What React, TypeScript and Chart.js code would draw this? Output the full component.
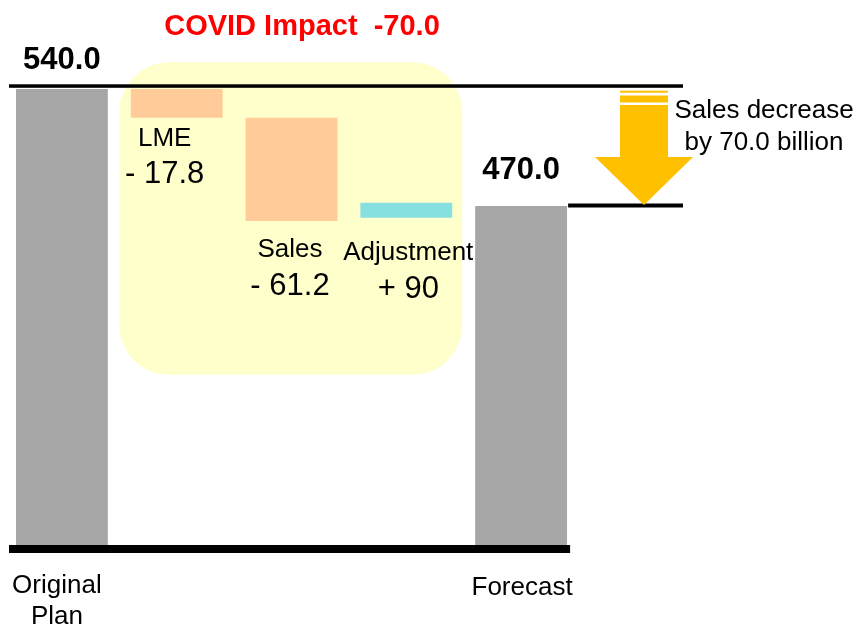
import React, { useEffect, useRef } from "react";
import { Chart, registerables } from "chart.js";

Chart.register(...registerables);

// ---- data ----
const categories = ["Original Plan", "LME", "Sales", "Adjustment", "Forecast"];
const axisLabels: string[][] = [["Original", "Plan"], [], [], [], ["Forecast"]];
const barValues: (number | [number, number])[] = [540, [522.8, 540], [461, 522.8], [463, 472], 470];
const totalLabels = ["540.0", "", "", "", "470.0"];
const changeNames = ["", "LME", "Sales", "Adjustment", ""];
const changeLabels = ["", "- 17.8", "- 61.2", "+ 90", ""];
const covidTitle = "COVID Impact  -70.0";
const arrowNote = ["Sales decrease", "by 70.0 billion"];
const planValue = 540;
const forecastValue = 470;
const yMin = 267;
const yMax = 560;
const highlightTop = 556;
const highlightBottom = 369;

// ---- styles ----
const barColors = ["#A6A6A6", "#FFCC99", "#FFCC99", "#86E0E0", "#A6A6A6"];
const FONT = '"Liberation Sans", Arial, sans-serif';
const YELLOW_BOX = "#FFFFCC";
const ARROW = "#FFC000";

const overlayPlugin = {
  id: "overlay",
  beforeDatasetsDraw(chart: any) {
    const { ctx, scales } = chart;
    const x = scales.x;
    const y = scales.y;
    const left = (x.getPixelForValue(0) + x.getPixelForValue(1)) / 2;
    const right = (x.getPixelForValue(3) + x.getPixelForValue(4)) / 2 - 1.5;
    const top = y.getPixelForValue(highlightTop);
    const bottom = y.getPixelForValue(highlightBottom);
    const r = 50;
    ctx.save();
    ctx.fillStyle = YELLOW_BOX;
    ctx.beginPath();
    ctx.moveTo(left + r, top);
    ctx.lineTo(right - r, top);
    ctx.arcTo(right, top, right, top + r, r);
    ctx.lineTo(right, bottom - r);
    ctx.arcTo(right, bottom, right - r, bottom, r);
    ctx.lineTo(left + r, bottom);
    ctx.arcTo(left, bottom, left, bottom - r, r);
    ctx.lineTo(left, top + r);
    ctx.arcTo(left, top, left + r, top, r);
    ctx.closePath();
    ctx.fill();
    ctx.restore();
  },
  afterDatasetsDraw(chart: any) {
    const { ctx, scales, chartArea } = chart;
    const x = scales.x;
    const y = scales.y;
    const cx = (i: number) => x.getPixelForValue(i);
    const pPlan = y.getPixelForValue(planValue);
    const pFc = y.getPixelForValue(forecastValue);
    const pBase = y.getPixelForValue(yMin);
    const lineRight = chartArea.right + 104.5;
    const barHalf = 46;

    ctx.save();
    ctx.fillStyle = "#000";
    // top reference line
    ctx.fillRect(9, pPlan - 4.7, lineRight - 9, 3.5);
    // forecast reference line
    ctx.fillRect(cx(4) + barHalf + 1, pFc - 2.5, lineRight - (cx(4) + barHalf + 1), 4);
    // baseline
    ctx.fillRect(9, pBase - 0.3, cx(4) + barHalf + 3 - 9, 8);

    // arrow
    const ax = chartArea.right + 65.5;
    ctx.fillStyle = ARROW;
    ctx.fillRect(ax - 24, pPlan + 1.7, 48, 2);
    ctx.fillRect(ax - 24, pPlan + 6.5, 48, 7);
    const headTop = pFc - 49;
    ctx.fillRect(ax - 24, pPlan + 16, 48, headTop - (pPlan + 16) + 0.5);
    ctx.beginPath();
    ctx.moveTo(ax - 49, headTop);
    ctx.lineTo(ax + 49, headTop);
    ctx.lineTo(ax, pFc - 1);
    ctx.closePath();
    ctx.fill();

    ctx.textAlign = "center";
    ctx.textBaseline = "alphabetic";
    // arrow note
    ctx.fillStyle = "#000";
    ctx.font = `26px ${FONT}`;
    ctx.fillText(arrowNote[0], ax + 120, pPlan + 28.7);
    ctx.fillText(arrowNote[1], ax + 120, pPlan + 61);

    // totals
    ctx.font = `bold 31px ${FONT}`;
    ctx.fillText(totalLabels[0], cx(0), pPlan - 19.7);
    ctx.fillText(totalLabels[4], cx(4), pFc - 26.7);

    // change labels
    const nameOff = [0, 28, 36, 42.4, 0];
    const valOff = [0, 65, 74, 80.4, 0];
    const xOff = [0, -12, -1.5, 2, 0];
    for (let i = 1; i <= 3; i++) {
      const v = barValues[i] as [number, number];
      const pb = y.getPixelForValue(Math.min(v[0], v[1]));
      ctx.font = `26px ${FONT}`;
      ctx.fillText(changeNames[i], cx(i) + xOff[i], pb + nameOff[i]);
      ctx.font = `31px ${FONT}`;
      ctx.fillText(changeLabels[i], cx(i) + xOff[i], pb + valOff[i]);
    }

    // category labels under the baseline
    ctx.font = `26px ${FONT}`;
    const catOff = [-5, 0, 0, 0, 1];
    axisLabels.forEach((lines, i) => {
      lines.forEach((t, k) => {
        ctx.fillText(t, cx(i) + catOff[i], pBase + 48 + k * 31 + (i === 4 ? 2 : 0));
      });
    });

    // covid title
    ctx.fillStyle = "#FF0000";
    ctx.font = `bold 29px ${FONT}`;
    const boxCenter = (cx(1) + cx(3)) / 2;
    ctx.fillText(covidTitle, boxCenter + 10.5, y.getPixelForValue(highlightTop) - 27.7);
    ctx.restore();
  },
};

export default function App() {
  const ref = useRef<HTMLCanvasElement | null>(null);
  useEffect(() => {
    if (!ref.current) return;
    const chart = new Chart(ref.current, {
      type: "bar",
      data: {
        labels: categories,
        datasets: [
          {
            data: barValues as any,
            backgroundColor: barColors,
            borderWidth: 0,
            barPercentage: 0.8,
            categoryPercentage: 1,
          },
        ],
      },
      options: {
        responsive: false,
        animation: false,
        devicePixelRatio: 1,
        layout: { padding: { left: 4.5, right: 278.5, top: 55.57, bottom: 79.7 } },
        scales: {
          x: { display: false },
          y: { display: false, min: yMin, max: yMax },
        },
        plugins: { legend: { display: false }, tooltip: { enabled: false } },
      },
      plugins: [overlayPlugin],
    });
    return () => chart.destroy();
  }, []);
  return (
    <div style={{ position: "absolute", left: 0, top: 0, width: 857, height: 625, background: "#fff" }}>
      <canvas ref={ref} width={857} height={625} style={{ display: "block", width: 857, height: 625 }} />
    </div>
  );
}
